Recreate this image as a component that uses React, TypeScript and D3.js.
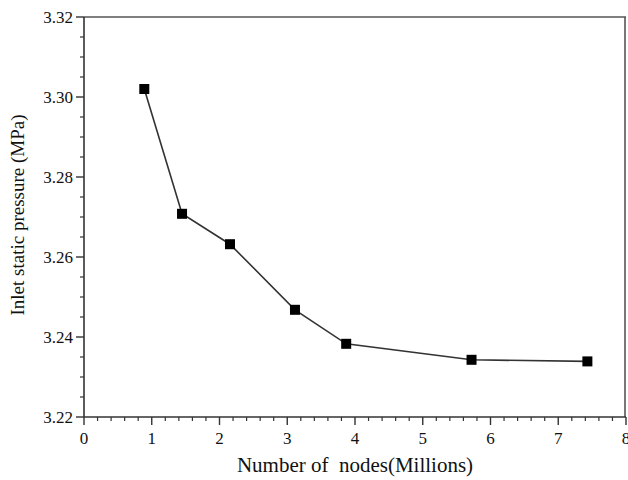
import React from "react";
import * as d3 from "d3";

// Grid-independence study: inlet static pressure vs. mesh size
const nodesMillions = [0.89, 1.447, 2.155, 3.114, 3.87, 5.72, 7.43];
const inletPressure = [3.302, 3.2708, 3.2632, 3.2468, 3.2383, 3.2343, 3.2339];

const xTicks = [0, 1, 2, 3, 4, 5, 6, 7, 8];
const yTicks = [3.22, 3.24, 3.26, 3.28, 3.3, 3.32];

const xTitle = "Number of  nodes(Millions)";
const yTitle = "Inlet static pressure (MPa)";

const W = 628;
const H = 480;
const margin = { left: 84, right: 2, top: 17, bottom: 63 };

const FONT = '"Liberation Serif", "Times New Roman", Times, serif';

export default function App() {
  const x = d3.scaleLinear().domain([0, 8]).range([margin.left, W - margin.right]);
  const y = d3.scaleLinear().domain([3.22, 3.32]).range([H - margin.bottom, margin.top]);

  const xMinor = d3.range(0, 8.0001, 0.2).filter((v) => Math.abs(v - Math.round(v)) > 1e-6);
  const yMinor = d3.range(3.22, 3.32001, 0.005).filter(
    (v) => Math.abs(v * 50 - Math.round(v * 50)) > 1e-6
  );

  const line = d3
    .line<number>()
    .x((_, i) => x(nodesMillions[i]))
    .y((d) => y(d));

  const [x0, x1] = x.range();
  const [y0, y1] = y.range();
  const axisColor = "#333";
  const txt = { fontFamily: FONT, fill: "#111" } as React.CSSProperties;

  return (
    <svg
      width={W}
      height={H}
      style={{ position: "absolute", left: 0, top: 0, background: "#fff" }}
    >
      {/* frame */}
      <line x1={x0} x2={x1} y1={y1} y2={y1} stroke="#555" strokeWidth={1.6} />
      <line x1={x1 - 1} x2={x1 - 1} y1={y1} y2={y0} stroke="#555" strokeWidth={1.6} />
      <line x1={x0} x2={x1} y1={y0} y2={y0} stroke={axisColor} strokeWidth={1.6} />
      <line x1={x0} x2={x0} y1={y1} y2={y0} stroke={axisColor} strokeWidth={1.6} />

      {/* x ticks */}
      {xTicks.map((t) => (
        <g key={`xt${t}`}>
          <line x1={x(t)} x2={x(t)} y1={y0} y2={y0 + 8} stroke={axisColor} strokeWidth={1.4} />
          <text x={x(t)} y={y0 + 27} fontSize={17} textAnchor="middle" style={txt}>
            {t}
          </text>
        </g>
      ))}
      {xMinor.map((t) => (
        <line key={`xm${t}`} x1={x(t)} x2={x(t)} y1={y0} y2={y0 + 4} stroke={axisColor} strokeWidth={1.2} />
      ))}

      {/* y ticks */}
      {yTicks.map((t) => (
        <g key={`yt${t}`}>
          <line x1={x0 - 8} x2={x0} y1={y(t)} y2={y(t)} stroke={axisColor} strokeWidth={1.4} />
          <text x={x0 - 11} y={y(t) + 5.5} fontSize={17} textAnchor="end" style={txt}>
            {t.toFixed(2)}
          </text>
        </g>
      ))}
      {yMinor.map((t) => (
        <line key={`ym${t}`} x1={x0 - 4} x2={x0} y1={y(t)} y2={y(t)} stroke={axisColor} strokeWidth={1.2} />
      ))}

      {/* series */}
      <path d={line(inletPressure) ?? ""} fill="none" stroke="#333" strokeWidth={1.6} />
      {inletPressure.map((v, i) => (
        <rect
          key={`p${i}`}
          x={x(nodesMillions[i]) - 5}
          y={y(v) - 5}
          width={10}
          height={10}
          fill="#000"
        />
      ))}

      {/* axis titles */}
      <text
        x={355}
        y={472}
        fontSize={21}
        textAnchor="middle"
        style={{ ...txt, whiteSpace: "pre" }}
      >
        {xTitle}
      </text>
      <text
        transform={`translate(24, 215) rotate(-90)`}
        fontSize={19}
        textAnchor="middle"
        style={txt}
      >
        {yTitle}
      </text>
    </svg>
  );
}
